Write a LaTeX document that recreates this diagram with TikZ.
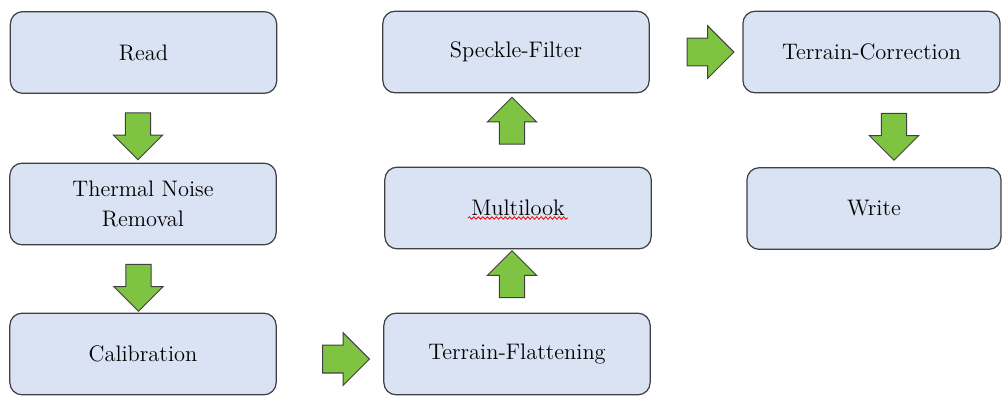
\documentclass[tikz,border=0pt]{standalone}
\usetikzlibrary{shapes.arrows, decorations.pathmorphing}

\definecolor{boxblue}{RGB}{218,227,243}
\definecolor{boxline}{RGB}{64,64,64}
\definecolor{arrowgreen}{RGB}{126,196,66}

\begin{document}
\begin{tikzpicture}[
    x=0.49pt, y=-0.49pt,
    stepbox/.style={rectangle, draw=boxline, line width=0.6pt, fill=boxblue, rounded corners=6pt, minimum width=130.5pt, minimum height=40pt, align=center, font=\fontsize{11}{15}\selectfont},
    flow/.style={single arrow, draw=black!75, fill=arrowgreen, line width=0.5pt, inner xsep=0pt, inner ysep=5.9pt, single arrow head extend=5.9pt, minimum height=23pt},
    flowright/.style={flow, inner ysep=6.6pt, single arrow head extend=6.1pt},
    squiggle/.style={red, line width=0.4pt, decorate, decoration={snake, amplitude=0.6pt, segment length=2.2pt}}
]
\useasboundingbox (0,0) rectangle (1002,396);

% first column
\node[stepbox] (read) at (143.5,52.5) {Read};
\node[stepbox] (thermal) at (143,204) {Thermal Noise\\Removal};
\node[stepbox] (calib) at (143,354) {Calibration};

% second column
\node[stepbox] (tflat) at (517,354) {Terrain-Flattening};
\node[stepbox] (multilook) at (518,208) {Multilook};
\node[stepbox] (speckle) at (516,52) {Speckle-Filter};

% third column
\node[stepbox, minimum width=126pt] (tcorr) at (871.5,52) {Terrain-Correction};
\node[stepbox, minimum width=124.5pt] (write) at (874,208.5) {Write};

\draw[squiggle] (multilook.center) ++(-50,10) -- ++(100,0);

% block arrows
\node[flow, rotate=-90] (readdown) at (138,130) {};
\node[flow, rotate=-90] (thermaldown) at (138.5,281.5) {};
\node[flowright] (calibright) at (339,359) {};
\node[flow, rotate=90] (tflatup) at (512,280.5) {};
\node[flow, rotate=90] (multilookup) at (512,127) {};
\node[flowright] (speckleright) at (703.5,52) {};
\node[flow, rotate=-90] (tcorrdown) at (894,130.5) {};

\end{tikzpicture}
\end{document}
